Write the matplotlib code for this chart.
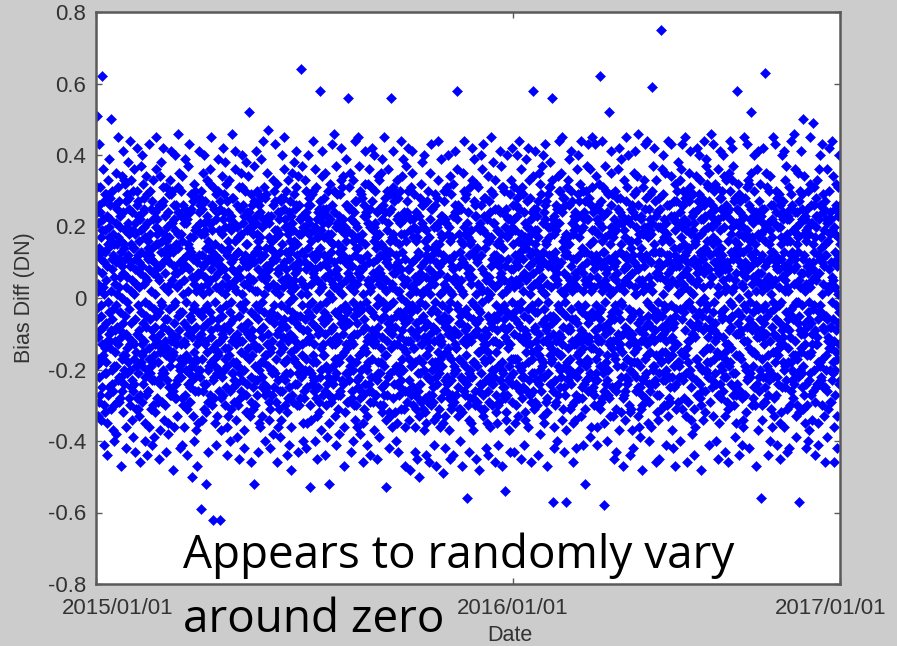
import numpy as np
import matplotlib
matplotlib.use("Agg")
import matplotlib.pyplot as plt
from matplotlib.transforms import ScaledTranslation

# Bias difference (DN x 100), one string per quarter, in observation order
q1_2015 = """
8 -19 -3 31 12 24 51 -6 -17 4 -33 21 -11 2 26 -29 14 -22 43 -9 24 -18 31 -27 13
-5 17 11 -34 -2 -25 62 7 19 -13 36 -16 3 -8 22 -30 10 27 -41 1 -21 29 -14 19 -32
13 -21 -7 29 5 -18 -44 -12 23 9 -35 15 -1 14 -27 33 -4 20 39 -10 17 -25 22 -12 28
-14 26 2 -31 -9 16 50 11 -24 -6 30 -20 8 -3 18 -37 12 -26 -40 6 -30 15 -19 26 -9
4 -15 -12 35 10 21 -38 -2 -19 15 -29 25 -8 1 -23 31 -13 17 45 3 27 -22 11 -29 20
-9 23 6 -28 -4 -22 -47 13 16 -11 34 -17 0 9 -26 -32 7 24 41 -7 -16 33 -24 14 -20
15 -16 -5 32 11 19 -42 -10 27 3 -36 20 -14 6 -21 29 -1 -18 38 12 21 -11 -28 25 18
-3 28 9 -30 -13 -20 44 2 -25 -7 33 15 10 -12 24 -34 5 -23 -39 14 -26 19 30 -17 -13
1 -24 14 36 -6 18 -43 8 21 -15 -31 -19 4 11 -28 30 -10 26 42 -2 12 -31 23 -21 27
10 16 -9 -33 3 -27 -46 -11 22 7 37 -18 -4 13 19 -29 9 -16 40 -13 -19 24 -15 32 -24
-7 20 4 28 -12 25 -40 6 -22 -1 -35 17 12 -5 -27 34 -8 21 -44 5 29 -20 16 -26 11
14 -26 -2 -36 8 -17 43 -14 18 12 30 -21 -6 2 25 -31 11 -19 -41 -9 -23 14 27 -18 -30
-11 22 7 33 -3 -23 -39 10 -16 -8 -32 24 1 -13 20 36 -5 15 45 8 18 -28 -12 22 25
6 -18 -13 -29 15 19 -45 -4 26 5 34 -15 -10 9 -24 -37 13 -22 38 -1 -14 26 -29 16 -21
-2 27 10 31 -8 -20 42 3 -21 -14 -34 18 7 -6 23 -30 -12 16 -43 11 31 -16 20 -23 14
12 -14 -6 -35 2 24 -38 -9 17 10 29 -25 -3 14 -19 33 4 -27 41 -12 -27 21 -17 29 -11
-10 21 5 30 -15 -16 -48 13 -26 -2 -36 22 9 -7 26 -28 -1 19 40 7 15 -24 26 -13 -28
3 -23 -11 -33 7 18 46 -5 24 14 31 -19 -9 4 -22 35 10 -17 -42 -4 -20 30 -22 18 23
-13 16 8 34 -4 -28 -41 11 -18 1 -30 26 5 -12 21 -36 -7 23 39 9 25 -13 -27 21 -16
9 -20 -1 -31 12 22 -44 -8 15 -10 37 -24 2 8 -17 -29 14 -21 43 -5 -29 17 24 -25 12
-6 25 13 29 -11 -19 -50 6 -23 -3 -33 17 11 -9 27 32 -2 -15 -40 4 19 -26 -18 30 -22
2 -17 -8 -37 6 20 -47 -13 19 10 28 -26 -4 7 -20 -35 12 24 41 -11 -12 28 21 -20 26
"""

q2_2015 = """
7 -22 -10 30 3 18 -59 -5 25 12 -34 -17 1 9 -26 35 -8 21 40 -3 -24 18 -31 27 -13
-12 19 6 -32 10 -24 -52 14 -15 -2 33 23 -7 4 -20 -29 11 16 -43 2 21 -29 14 -19 32
5 -27 -4 36 -9 21 45 -11 -18 8 -30 26 13 -6 19 31 -14 -23 -62 10 -17 25 -22 12 -28
-1 15 12 -35 6 -19 -41 3 22 -13 29 -21 -8 11 24 -33 7 -16 39 -6 30 -15 19 -26 9
11 -20 -3 27 -12 25 -62 9 -28 2 -37 14 4 -10 -22 34 -5 18 42 -9 -27 22 -11 29 -20
-8 24 8 -30 1 -17 38 -14 20 13 32 -25 -2 6 -19 -36 12 27 -44 3 16 -33 24 -14 20
4 -16 -9 33 14 22 -40 -4 -26 -7 -31 19 10 -1 23 28 -12 -21 46 8 -21 11 28 -25 -18
-6 21 3 -29 -11 -23 41 12 16 5 36 -18 -13 7 -24 -34 2 20 -39 -10 26 -19 -30 17 13
13 -19 -5 31 8 17 -45 -2 -21 -12 -28 25 6 -8 18 35 -15 -26 40 1 -12 31 -23 21 -27
-3 26 11 -37 4 -20 -42 10 23 -9 30 -16 -1 12 -27 -32 9 15 38 -7 19 -24 15 -32 24
9 -14 -7 34 -10 24 52 6 -17 3 -33 22 -11 5 20 29 -4 -22 -46 11 -29 20 -16 26 -11
-9 18 5 -31 12 -25 -52 -13 27 10 37 -19 2 -5 -23 -30 13 21 41 -2 23 -14 -27 18 30
2 -23 14 29 -6 16 -43 8 -20 -14 -35 26 -3 11 24 -36 -9 17 39 6 -18 28 12 -22 -25
-11 20 -1 -33 7 -18 44 -8 22 1 31 -24 12 -4 -16 28 5 -27 -40 9 14 -26 29 -16 21
6 -25 9 35 -13 23 47 3 -19 -10 -29 17 -6 8 21 -34 14 -15 -42 -5 -31 16 -20 23 -14
-4 16 -12 -27 10 -21 -38 11 26 4 33 -20 -2 13 -25 30 -7 19 43 2 27 -21 17 -29 11
12 -17 3 32 -5 19 -46 -10 -23 8 -36 24 7 -9 18 -31 1 22 -39 -13 -15 24 -26 13 28
-7 27 -2 -34 9 -26 40 5 15 -11 28 -22 -14 3 25 36 -6 -18 45 10 20 -30 22 -18 -23
8 -21 13 30 -8 20 -44 -3 -17 6 -32 18 4 -12 -28 33 11 24 -41 -1 -25 13 27 -21 16
-10 23 -6 -36 2 -15 -48 14 21 -4 35 -27 9 0 19 -29 -11 16 38 5 29 -17 -24 25 -12
3 -18 7 31 -14 26 41 -7 -24 12 -30 15 -5 10 -21 34 8 -19 -43 -8 -19 26 18 -30 22
-5 22 10 -28 5 -22 64 1 18 -13 37 -16 13 -2 23 -35 -9 20 -40 4 12 -28 -21 20 -26
"""

q3_2015 = """
10 -20 -6 33 3 -17 -42 8 24 -12 30 -25 1 -9 19 -35 14 22 40 -4 26 -20 21 28 -12
-2 18 9 -30 -11 26 -53 -5 -21 4 -34 16 12 -7 -24 29 -1 -16 44 7 -22 30 -18 -26 19
6 -23 -13 36 8 20 -40 11 -18 -3 31 -28 -8 13 22 -33 5 17 -45 -10 12 -25 24 17 -29
-9 25 2 -32 14 -22 58 -2 27 9 -37 19 4 -14 -20 34 -6 23 41 3 -16 21 -27 -13 25
12 -16 -4 28 -7 17 -44 6 -26 -10 35 -19 -1 10 25 -30 9 -24 -39 -5 23 18 -22 30 -20
-6 21 11 -35 1 -27 -52 -12 16 7 32 22 -9 5 -23 -29 13 18 43 0 -28 -13 26 -24 15
4 -19 -8 30 10 24 46 3 -22 -13 -33 -17 7 -4 20 37 -11 -21 -41 8 -11 29 -17 21 -27
-12 15 6 -31 -5 -18 -38 13 23 2 29 -26 -3 11 -27 33 4 19 42 -7 14 -23 20 -16 31
1 -24 12 34 -10 22 -47 -6 -15 -8 -36 20 10 -2 18 -32 -13 26 39 5 -21 16 -29 26 -14
-4 19 -3 -29 7 -21 56 9 25 11 31 -23 -7 3 -19 35 6 -17 -43 -11 25 22 -12 -28 18
9 -26 5 33 -13 16 -40 -1 -20 -5 -30 24 2 -10 27 -34 12 21 44 -3 -30 -18 27 14 -23
-7 20 -10 -36 4 -25 45 7 17 14 37 -16 -4 8 -22 30 -2 -28 -38 6 11 -26 16 -20 29
11 -15 8 28 -3 18 -46 -9 -27 1 -35 26 9 -6 23 -31 -14 15 41 -8 -24 32 -15 24 -19
-1 23 -12 -33 12 -20 -41 4 21 -11 32 -18 5 -3 -26 36 10 -24 -44 2 20 -29 25 -11 -26
5 -22 3 31 -9 27 42 -4 -17 10 -29 19 -13 7 16 -37 -5 20 40 -12 -13 -27 30 -22 21
-10 17 14 -27 6 -23 -45 11 24 -2 34 -21 0 -8 -18 33 8 25 -39 4 18 25 -21 -30 12
7 -18 -6 35 -14 15 39 -11 -25 6 -32 22 -1 12 26 -30 3 -19 45 -5 -27 14 -16 28 -24
-3 24 10 -34 2 -16 -53 5 19 -12 30 -27 11 -7 21 36 -9 -22 -42 9 13 -32 24 -33 16
13 -21 -2 29 -6 25 56 -8 -14 3 -36 17 -10 4 -28 31 7 18 41 -1 -20 27 -13 -24 30
-8 16 7 -32 9 -19 -40 12 28 -5 33 -24 2 -13 22 -35 -4 23 -43 10 28 -19 15 -27 -21
2 -25 -11 30 -4 21 44 0 -23 8 -31 18 6 -9 -17 34 13 -20 39 -6 -14 22 -31 18 24
-5 22 4 -36 11 -26 -47 -7 16 -1 37 -15 -12 5 24 -29 -3 27 42 8 30 -12 -26 23 -17
"""

q4_2015 = """
-6 -23 8 -34 1 19 -48 -12 22 -4 31 -27 3 -9 -19 35 10 -25 41 -2 -25 17 -30 22 -14
4 20 -10 29 -14 -26 -43 6 -18 11 -36 16 -7 2 24 -31 -3 17 -45 -11 19 -28 -21 13 -26
-9 -17 12 -33 5 23 -50 -1 -24 7 28 -21 9 -13 -29 32 -6 21 38 1 -13 26 -18 -31 20
2 26 -5 -37 -11 -20 40 10 16 -8 -32 -28 -2 6 19 -35 12 -16 -44 -7 27 -22 14 -16 -29
-12 -22 3 30 8 17 -46 -14 -27 1 35 22 -10 11 -23 -30 5 25 43 -4 -20 12 -27 25 -18
7 14 -8 -29 -3 -25 -41 4 20 -12 -34 -18 6 -1 26 29 -9 -22 -47 10 15 -33 20 -24 28
-4 -19 13 33 -15 21 44 -6 -21 9 -31 15 1 -11 -17 -36 7 18 39 -13 -28 23 -12 -19 17
10 23 -2 -35 2 -16 -49 12 27 -7 30 -26 -5 4 22 -33 -8 -23 -42 3 21 -15 -26 30 -22
-8 -24 6 31 -10 18 40 -3 -16 -14 -37 20 11 -6 -28 34 2 16 -45 -1 -17 29 -23 11 -31
1 17 -11 -30 9 -27 -44 8 23 5 32 -19 -9 12 -21 -29 -13 24 41 6 26 -20 -14 24 -27
-14 -20 4 36 -2 22 58 -10 -25 -3 -33 26 3 -7 18 -31 9 -17 -40 -5 -31 13 25 -22 16
5 25 -7 -32 11 -18 -47 2 15 10 35 -23 -12 1 -26 30 -4 20 44 -9 18 -27 -19 28 -12
-3 -16 9 29 -13 -24 -56 -8 21 -11 -30 17 7 -5 24 -34 6 -21 -43 12 -22 31 -28 15 -20
8 19 -12 -35 4 16 42 -1 -22 6 33 -28 -6 13 -18 -37 -10 27 39 -2 12 -18 23 -30 26
-10 -26 1 32 -7 23 -45 11 -19 -9 -29 14 10 -3 20 31 4 -15 -48 -6 -26 20 -15 19 -24
3 21 -4 -31 12 -21 40 -11 26 2 36 -24 -1 8 -27 -33 -14 19 43 7 23 -31 28 -13 -17
-11 -18 14 28 -9 18 -42 5 -23 -13 -35 22 2 -10 16 34 -5 -26 -44 0 -15 16 -22 27 -29
6 24 -6 -36 1 -17 45 -7 17 9 30 -20 -8 4 -24 -30 11 21 38 -12 29 -24 12 -20 21
-5 -22 10 33 -12 25 -46 3 -15 -2 -32 -27 12 -6 19 -35 -9 15 -41 4 -19 25 -30 16 -13
9 15 -13 -29 6 -23 41 -4 24 11 37 18 -3 7 -20 31 1 -18 -47 -8 14 -21 -25 31 -27
-2 -25 5 30 -6 20 -54 9 -28 -11 -34 23 -9 2 25 -32 -12 17 40 -4 -27 18 22 -14 -23
11 18 -8 -37 3 -19 -43 -13 22 4 29 -22 5 -5 -17 33 8 -24 42 -1 20 -29 -17 26 15
"""

q1_2016 = """
8 -21 -4 31 -10 22 -43 3 -17 12 -35 19 -6 5 26 -30 10 -24 40 -2 23 -17 28 -25 12
-7 16 9 -33 4 -19 44 -11 25 -3 30 -26 13 -8 -20 36 -1 18 -45 6 -19 31 -22 15 -28
2 -25 -12 29 11 24 -41 7 -22 -5 -32 17 -9 14 21 -34 5 -15 39 -10 14 -26 20 -13 27
-11 20 6 -36 -3 -18 42 -6 16 9 33 -23 1 -13 -27 28 12 22 -46 3 -29 18 -15 24 -21
13 -17 -2 34 7 -26 58 10 -21 -9 -31 25 4 -4 19 -29 -8 15 41 -12 25 -23 13 -30 19
-4 23 11 -30 -14 17 -44 -1 27 5 35 -16 -10 8 -24 32 3 -20 -38 9 -17 29 -26 12 -22
6 -19 -7 37 2 21 40 -12 -18 13 -33 24 -3 10 -22 -35 -6 26 43 1 22 -12 -29 27 16
-9 15 4 -32 -8 -28 -47 9 20 -1 29 -21 12 -11 17 31 -13 -16 38 -5 -24 20 31 -18 -14
3 -24 10 33 12 -17 56 -7 -26 -10 -57 22 -5 6 23 -36 8 18 -42 11 13 -30 21 -23 26
-12 19 -6 -29 5 25 -40 4 -15 7 34 -27 9 -2 -19 30 -10 21 44 -3 -20 25 -16 30 -25
10 -16 2 35 -11 -22 45 -4 24 -13 -34 16 -8 14 28 -31 1 -25 -43 7 28 -19 17 -27 12
-1 26 13 -37 -5 18 -57 12 -20 3 31 -18 6 -9 -23 33 -14 17 39 -8 -22 15 26 -17 -31
5 -20 -9 30 9 -24 41 -3 21 -6 -30 27 -12 2 18 -35 11 -21 -46 4 19 -29 -13 23 24
-6 22 7 -34 -13 20 -42 6 -27 11 36 -22 3 -7 -16 29 -2 23 40 -11 -15 27 -28 17 -20
12 -18 -3 32 8 -15 44 -9 19 -12 -33 14 -4 9 -25 -28 7 20 -41 2 30 -14 22 -24 13
-10 24 5 -31 -2 27 -52 13 -23 4 30 -19 10 -5 22 37 -12 -17 43 -7 -26 22 -18 28 -12
4 -22 -11 36 6 -21 -39 -6 15 -14 -36 26 2 12 -26 31 -4 19 45 10 16 -25 24 -14 -27
"""

q2_2016 = """
-5 19 8 -30 3 -23 43 -9 25 10 34 -17 -2 12 -21 -36 6 22 -41 -11 -23 18 -30 26 -12
11 -15 -4 32 -8 21 62 4 -19 -6 -31 24 9 -3 27 -29 -12 16 44 2 20 -28 13 -21 31
-8 23 13 -35 10 -26 -58 -1 17 5 37 -20 -10 7 -24 30 3 -18 -40 8 -16 24 -23 11 -27
3 -20 -7 29 -13 18 52 11 -28 -12 -33 15 1 -9 20 35 -5 26 41 -4 29 -14 18 -25 10
-12 17 6 -33 2 -16 -45 -6 22 9 30 -25 12 -2 -17 -31 10 19 -43 5 -26 21 -12 28 -19
7 -24 -10 36 -4 25 42 3 -14 -11 -37 21 -6 13 24 28 -13 -22 39 -1 15 -32 23 -15 21
-2 21 4 -28 12 -19 -47 -10 19 2 33 -27 8 -8 -26 -34 5 17 45 9 -22 12 27 -24 -17
9 -17 11 31 -9 22 40 6 -23 -13 -30 16 -3 4 21 -32 -11 -20 -44 -6 25 -18 -31 16 14
-10 26 -5 -37 7 -21 -42 12 24 -4 35 -18 10 -12 -15 29 1 23 41 3 -13 30 -22 20 -26
1 -18 9 34 -14 16 46 -7 -25 8 -33 26 -9 5 18 -36 -4 -19 -39 12 18 -25 14 -31 23
-6 22 -12 -30 5 -27 -48 4 18 11 31 -23 2 -10 -22 33 9 20 43 -8 -28 19 -17 25 -12
12 -21 3 28 -1 20 44 -13 -16 -5 -35 17 -7 11 25 -29 -2 -24 -40 6 22 -15 -26 19 29
4 18 -8 -36 10 -24 59 2 21 -11 30 -20 13 -3 -19 37 -12 15 42 -5 -19 27 13 -23 -24
-9 -16 7 33 -6 23 -46 -4 -27 6 -32 24 -1 9 20 -34 7 -21 -45 10 13 -27 28 -17 20
6 25 -11 -31 13 -18 75 9 16 -8 36 -15 -5 1 -23 29 -10 19 40 -2 -30 17 -21 22 -15
-3 -23 5 35 -12 21 -41 -9 -20 12 -30 18 10 -7 26 -33 3 -17 44 7 26 -22 16 -28 12
10 16 -6 -29 4 -25 43 8 23 -2 34 -22 -11 5 -16 -37 -8 22 -42 -12 -14 23 -25 14 27
-7 -19 12 32 -5 19 -47 -3 -24 9 -31 27 4 -13 21 30 11 -18 38 1 21 -29 21 -19 -22
"""

q3_2016 = """
9 -18 14 33 -3 24 -40 6 -15 17 36 -22 2 11 26 -31 -6 20 43 4 26 -16 30 -23 15
-4 22 7 -28 12 -16 45 -9 28 3 -33 19 13 -2 -21 30 8 -14 -46 10 -18 28 -12 21 -29
14 -12 -1 35 6 27 41 2 -20 -7 31 -25 10 5 18 -34 -10 23 -38 -3 19 -22 24 -10 29
1 19 11 -31 -8 21 -44 15 24 -11 -36 16 -5 9 -17 34 4 -23 42 7 -27 17 -17 27 -8
-7 25 5 29 10 -19 40 -4 -24 13 33 -28 8 -1 22 -30 12 18 -48 -5 28 -20 13 -26 22
11 -15 -9 -34 3 26 44 7 19 0 -32 23 -8 14 -26 37 -3 -20 39 9 -14 32 -21 16 -18
-2 20 13 31 -11 -22 -41 -6 27 8 35 -18 12 4 -14 -29 6 24 46 -8 23 -9 -25 26 20
6 -23 -4 -33 15 17 43 10 -17 -9 30 21 -1 -12 25 32 -7 -21 -40 13 -24 21 31 -15 -11
-10 16 8 36 1 -27 -45 3 22 11 -35 -16 9 7 -24 28 14 19 41 -4 14 -28 25 -19 28
12 -20 -6 30 -5 23 40 -11 -26 5 34 -22 -3 10 20 -33 2 -15 -43 8 -17 26 -13 33 -22
3 24 10 -29 9 -18 -46 8 16 -13 -31 25 6 -6 -19 35 -9 22 44 -1 30 -18 18 -24 13
-8 -14 2 33 -2 20 42 -5 -21 12 37 -27 11 3 27 -30 13 -25 -39 5 -21 16 28 -16 -27
7 21 -10 -35 14 -24 58 12 25 -4 32 15 -7 -10 -16 29 0 18 -44 10 20 -26 -10 24 27
-5 -17 9 28 -9 22 -41 4 -28 7 -34 20 3 13 23 -36 -12 17 45 -2 -12 28 -27 18 -19
10 18 -3 -32 6 -20 43 -8 19 -12 31 -23 14 1 -22 33 8 26 -42 -6 32 -14 22 -21 16
-1 -22 12 35 -7 25 52 9 -15 4 -30 17 -9 6 21 -28 -4 -19 40 11 -25 23 -15 30 -9
13 15 -8 -30 2 -16 -47 -2 24 10 36 -24 5 -11 18 -37 7 22 41 -3 17 -22 27 -11 -26
"""

q4_2016 = """
4 -20 11 32 -6 23 -56 -9 18 7 -34 -17 2 12 25 -30 -3 21 42 -11 -22 19 -29 25 -13
-7 16 -2 -29 9 -25 63 5 -22 -10 35 20 -5 3 -19 31 10 -16 -44 6 21 -27 15 -20 30
11 -23 6 34 -12 19 -40 -4 26 1 -31 -21 13 -8 22 -36 4 17 45 -1 -15 26 -22 13 -28
-3 21 -10 -33 5 -18 43 12 -15 9 30 24 -6 10 -27 28 -11 -22 -41 8 28 -16 20 -24 11
8 -14 3 29 -2 26 -45 -7 20 -13 -35 15 11 -1 17 -32 6 23 40 -9 -25 22 -13 27 -18
-11 24 9 -36 13 -20 41 2 -25 5 33 -19 -4 7 -23 37 -8 18 -43 3 16 -31 22 -14 23
2 -18 -6 31 -9 22 -42 10 16 -11 -30 25 8 -3 -18 29 12 -26 44 -5 -20 13 26 -23 -16
-6 19 12 -28 4 -24 46 -2 -21 8 36 -16 -12 11 24 -33 -1 20 -39 9 24 -17 -30 18 15
13 -22 -1 35 -7 17 -57 5 27 -5 -32 21 3 -9 -20 30 7 -15 41 -10 -14 29 -21 22 -25
-2 25 7 -31 11 -19 50 -10 18 12 34 -27 -7 2 23 -35 -13 22 -42 4 19 -24 16 -30 25
9 -16 -8 30 -4 20 -40 7 -23 -1 -37 18 10 -6 -16 32 3 -21 45 -7 -27 21 -15 26 -13
-10 21 5 -34 8 -26 49 -3 15 10 31 -20 -2 13 26 -29 -9 17 -44 6 23 -13 -25 20 28
5 -24 -11 33 -13 23 -41 12 -18 -6 -35 22 7 -4 -24 36 11 -19 40 -2 -18 26 14 -22 -23
-4 17 10 -30 1 -17 43 -8 24 4 29 -25 -9 9 19 -33 -5 25 -46 12 15 -25 27 -16 22
12 -20 -5 36 -6 21 -39 3 -26 -12 -31 16 2 -11 22 30 8 -14 42 -8 -29 18 -20 24 -14
-8 22 4 -29 10 -23 44 -1 19 6 34 -18 -6 5 -21 -36 -12 20 -46 3 25 -20 18 -27 13
3 -15 -9 32 -2 26 -42 9 -17 11 -33 23 12 -7 17 31 1 -24 40 -4 -13 24 -23 15 26
"""

year_labels = ["2015/01/01", "2016/01/01", "2017/01/01"]
ytick_values = [-0.8, -0.6, -0.4, -0.2, 0.0, 0.2, 0.4, 0.6, 0.8]
ytick_labels = ["-0.8", "-0.6", "-0.4", "-0.2", "0", "0.2", "0.4", "0.6", "0.8"]
x_title = "Date"
y_title = "Bias Diff (DN)"
note_lines = ["Appears to randomly vary", "around zero"]


def parse(block):
    return np.array(block.split(), dtype=float) / 100.0


diff_2015 = np.concatenate([parse(b) for b in (q1_2015, q2_2015, q3_2015, q4_2015)])
diff_2016 = np.concatenate([parse(b) for b in (q1_2016, q2_2016, q3_2016, q4_2016)])
bias_diff = np.concatenate([diff_2015, diff_2016])
obs = np.arange(bias_diff.size)
year_ticks = [0, diff_2015.size, bias_diff.size - 1]

plt.rcParams["font.family"] = ["Liberation Sans", "DejaVu Sans"]
plt.rcParams["axes.unicode_minus"] = False

W, H = 897, 646
fig = plt.figure(figsize=(W / 100, H / 100), dpi=100, facecolor="#cccccc")
ax = fig.add_axes([96 / W, 1 - 584 / H, (840 - 96) / W, (584 - 12) / H])
ax.set_facecolor("white")

ax.plot(obs, bias_diff, linestyle="none", marker="D", markersize=4.6,
        markerfacecolor="#0000ff", markeredgecolor="#0000ff",
        markeredgewidth=0.4, zorder=2)

ax.set_xlim(0, bias_diff.size - 1)
ax.set_ylim(-0.8, 0.8)
ax.set_yticks(ytick_values, labels=ytick_labels)
ax.set_xticks(year_ticks, labels=year_labels)

label_color = "#333333"
spine_color = "#5a5a5a"
for s in ax.spines.values():
    s.set_color(spine_color)
    s.set_linewidth(1.8)
    s.set_zorder(3)
ax.tick_params(axis="both", direction="in", length=4.5, width=1.0,
               color=spine_color, labelsize=16, labelcolor=label_color,
               top=True, right=True)
ax.tick_params(axis="y", pad=7)
ax.tick_params(axis="x", pad=10)

# nudge the outer date labels inward
xlabels = ax.get_xticklabels()
shifts = [22, 0, -9]
for lab, dx in zip(xlabels, shifts):
    lab.set_transform(lab.get_transform() + ScaledTranslation(dx / 100, 0, fig.dpi_scale_trans))

ax.set_xlabel(x_title, fontsize=15.5, color=label_color)
ax.xaxis.set_label_coords((510 - 96) / 744, (584 - 625) / 572)
ax.set_ylabel(y_title, fontsize=15.5, color=label_color)
ax.yaxis.set_label_coords((35 - 96) / 744, 0.5)

fig.text(183 / W, 1 - 568 / H, note_lines[0], fontsize=33.0, family="Open Sans",
         color="black", va="baseline", ha="left")
fig.text(183 / W, 1 - 632 / H, note_lines[1], fontsize=33.0, family="Open Sans",
         color="black", va="baseline", ha="left")

fig.savefig("out.png", dpi=100, facecolor=fig.get_facecolor())
